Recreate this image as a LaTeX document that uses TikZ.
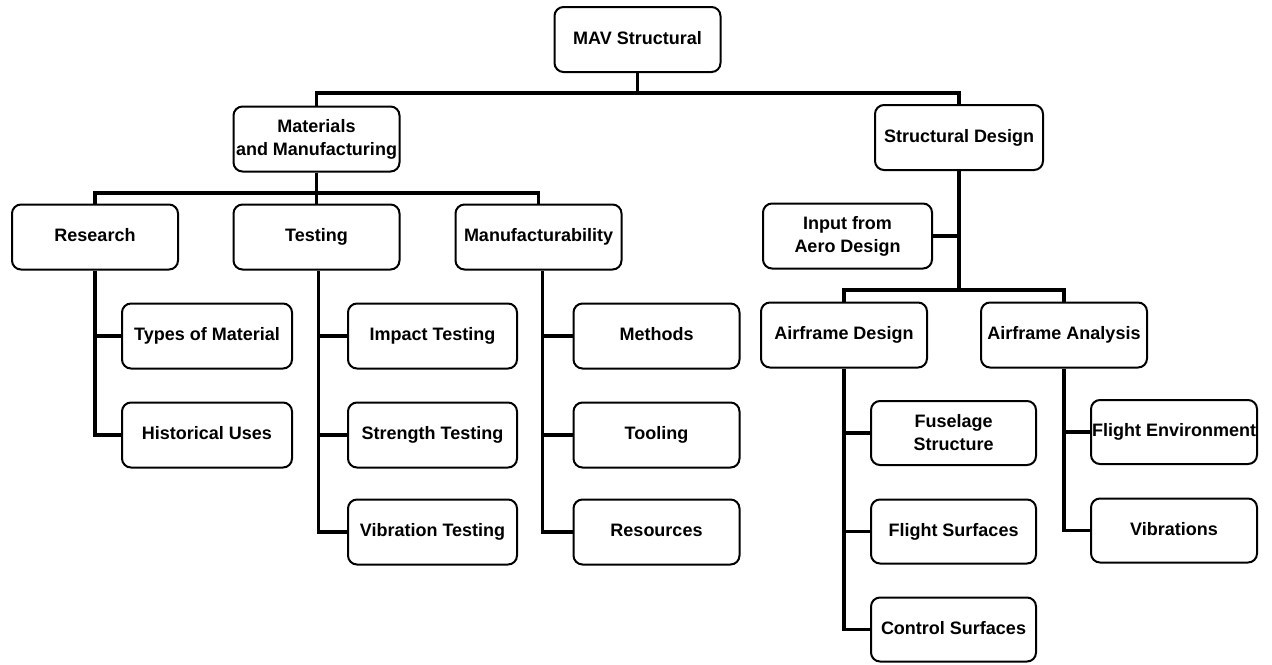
\documentclass[tikz,border=0pt]{standalone}
\usepackage{fontspec}
\setmainfont{Liberation Sans}
\begin{document}
\begin{tikzpicture}[x=0.5pt,y=-0.5pt,
  box/.style={draw, rounded corners=4.5pt, line width=1pt, minimum width=83pt, minimum height=32.5pt,
    inner sep=0pt, align=center, font=\bfseries\fontsize{9}{11.5}\selectfont},
  one/.style={text height=6.6pt, text depth=1.9pt},
  conn/.style={line width=1.6pt}]
\useasboundingbox (0,0) rectangle (1272,664);
% level 0/1
\node[box,one] (mav) at (637.5,39.5) {MAV Structural};
\node[box] (mat) at (316.5,139) {Materials\\and Manufacturing};
\node[box,one, minimum width=84pt] (sd) at (959,137.5) {Structural Design};
% level 2 left
\node[box,one] (res) at (95,237) {Research};
\node[box,one] (tes) at (316.5,237) {Testing};
\node[box,one] (man) at (538.5,237) {Manufacturability};
% level 3 left
\node[box,one, minimum width=85pt] (types) at (207,336) {Types of Material};
\node[box,one, minimum width=85pt] (hist) at (207,435) {Historical Uses};
\node[box,one, minimum width=84.5pt] (imp) at (432.5,336) {Impact Testing};
\node[box,one, minimum width=84.5pt] (str) at (432.5,435) {Strength Testing};
\node[box,one, minimum width=84.5pt] (vib) at (432.5,532) {Vibration Testing};
\node[box,one] (meth) at (656.5,336) {Methods};
\node[box,one] (tool) at (656.5,435) {Tooling};
\node[box,one] (reso) at (656.5,532) {Resources};
% right side
\node[box, minimum width=84.5pt] (inp) at (847.5,236) {Input from\\Aero Design};
\node[box,one] (ad) at (844,335) {Airframe Design};
\node[box,one] (aa) at (1064,335) {Airframe Analysis};
\node[box, minimum width=82.5pt, minimum height=32pt] (fus) at (953.5,433) {Fuselage\\Structure};
\node[box,one, minimum width=82.5pt, minimum height=32pt] (fs) at (953.5,531.5) {Flight Surfaces};
\node[box,one, minimum width=82.5pt, minimum height=32pt] (cs) at (953.5,629.5) {Control Surfaces};
\node[box,one, minimum height=32pt] (fe) at (1174,432) {Flight Environment};
\node[box,one, minimum height=32pt] (vibs) at (1174,530.5) {Vibrations};
% bars
\coordinate (bar1) at (0,93);
\coordinate (bar2) at (0,193);
\coordinate (bar3) at (0,290);
\draw[conn] (mav.south) -- (mav.south |- bar1);
\draw[conn] (mat.north) |- (bar1 -| sd.north) -- (sd.north);
\draw[conn] (mat.south) -- (mat.south |- bar2);
\draw[conn] (res.north) |- (bar2 -| man.north) -- (man.north);
\draw[conn] (tes.north) -- (tes.north |- bar2);
% left children
\draw[conn] (res.south) |- (hist.west);
\draw[conn] (res.south |- types.west) -- (types.west);
\draw[conn] ([xshift=1pt]tes.south) |- (vib.west);
\draw[conn] ([xshift=1pt]tes.south |- imp.west) -- (imp.west);
\draw[conn] ([xshift=1pt]tes.south |- str.west) -- (str.west);
\draw[conn] ([xshift=2pt]man.south) |- (reso.west);
\draw[conn] ([xshift=2pt]man.south |- meth.west) -- (meth.west);
\draw[conn] ([xshift=2pt]man.south |- tool.west) -- (tool.west);
% right children
\draw[conn] (sd.south) -- (sd.south |- bar3);
\draw[conn] (ad.north) |- (bar3 -| aa.north) -- (aa.north);
\draw[conn] (inp.east) -- (inp.east -| sd.south);
\draw[conn] (ad.south) |- (cs.west);
\draw[conn] (ad.south |- fus.west) -- (fus.west);
\draw[conn] (ad.south |- fs.west) -- (fs.west);
\draw[conn] (aa.south) |- (vibs.west);
\draw[conn] (aa.south |- fe.west) -- (fe.west);
\end{tikzpicture}
\end{document}
